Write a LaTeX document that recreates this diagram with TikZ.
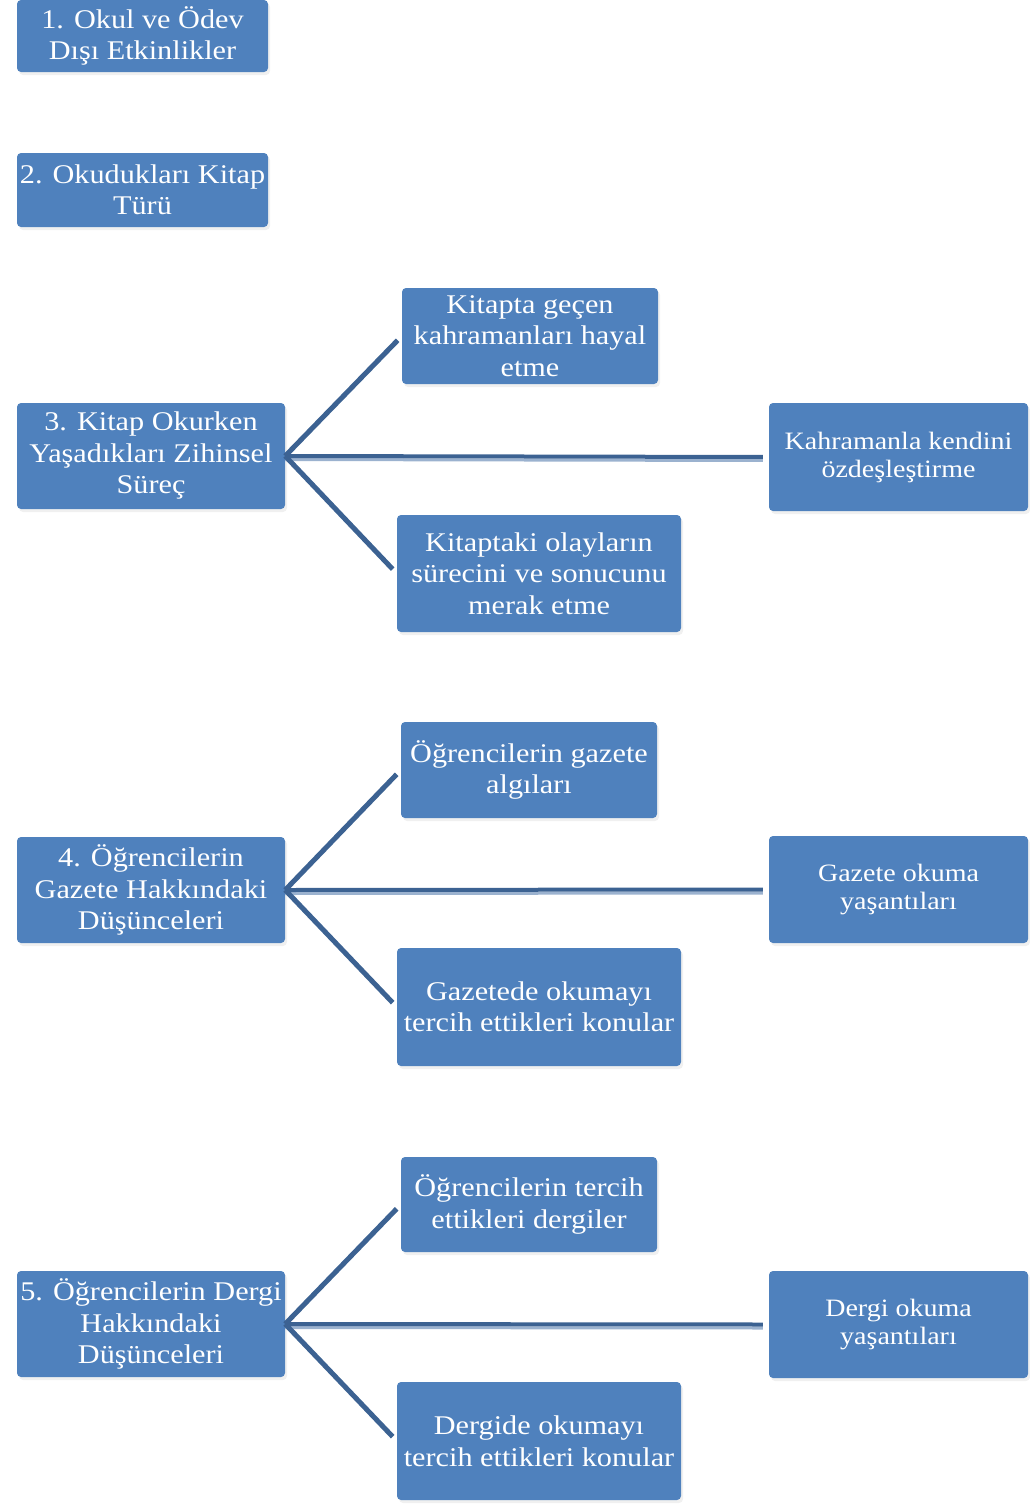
\documentclass[tikz,border=0pt]{standalone}
\usepackage{fontspec}
\setmainfont{Liberation Serif}[FakeStretch=1.12]
\usepackage{xcolor}
\usetikzlibrary{shadows}
\definecolor{boxblue}{RGB}{79,129,189}
\definecolor{linkblue}{RGB}{60,98,146}
\definecolor{linklight}{RGB}{155,178,207}

\tikzset{
  box/.style={rounded corners=4pt, fill=boxblue, text=white, align=center,
    inner sep=2pt, font=\fontsize{27}{31.5}\selectfont,
    drop shadow={opacity=0.12, shadow xshift=2pt, shadow yshift=-3pt}},
  sidebox/.style={box, font=\fontsize{25}{28}\selectfont},
  link/.style={draw=linkblue, line width=5pt, shorten >=6pt},
  flatlink/.style={link, line width=4pt, preaction={draw=linklight, line width=3pt,
    shorten >=6pt, transform canvas={yshift=-3.5pt}}}
}

\begin{document}
\begin{tikzpicture}[x=1pt, y=-1pt]
  \useasboundingbox (0,0) rectangle (1029,1507);
  % Headings without branches
  \node[box, minimum width=251pt, minimum height=72pt] (b1) at (142.5,36)
    {1. Okul ve Ödev\\Dışı Etkinlikler};
  \node[box, minimum width=251pt, minimum height=74pt] (b2) at (142.5,190)
    {2. Okudukları Kitap\\Türü};
  % Section 3
  \node[box, minimum width=268pt, minimum height=106pt] (b3) at (151,456)
    {3. Kitap Okurken\\Yaşadıkları Zihinsel\\Süreç};
  \node[box, minimum width=256pt, minimum height=96pt] (c31) at (530,336)
    {Kitapta geçen\\kahramanları hayal\\etme};
  \node[sidebox, minimum width=259pt, minimum height=108pt] (c32) at (898.5,457)
    {Kahramanla kendini\\özdeşleştirme};
  \node[box, minimum width=284pt, minimum height=117pt] (c33) at (539,573.5)
    {Kitaptaki olayların\\sürecini ve sonucunu\\merak etme};
  % Section 4
  \node[box, minimum width=268pt, minimum height=106pt] (b4) at (151,890)
    {4. Öğrencilerin\\Gazete Hakkındaki\\Düşünceleri};
  \node[box, minimum width=256pt, minimum height=96pt] (c41) at (529,770)
    {Öğrencilerin gazete\\algıları};
  \node[sidebox, minimum width=259pt, minimum height=107pt] (c42) at (898.5,889.5)
    {Gazete okuma\\yaşantıları};
  \node[box, minimum width=284pt, minimum height=118pt] (c43) at (539,1007)
    {Gazetede okumayı\\tercih ettikleri konular};
  % Section 5
  \node[box, minimum width=268pt, minimum height=106pt] (b5) at (151,1324)
    {5. Öğrencilerin Dergi\\Hakkındaki\\Düşünceleri};
  \node[box, minimum width=256pt, minimum height=95pt] (c51) at (529,1204.5)
    {Öğrencilerin tercih\\ettikleri dergiler};
  \node[sidebox, minimum width=259pt, minimum height=107pt] (c52) at (898.5,1324.5)
    {Dergi okuma\\yaşantıları};
  \node[box, minimum width=284pt, minimum height=118pt] (c53) at (539,1441)
    {Dergide okumayı\\tercih ettikleri konular};
  % Branches
  \foreach \p/\a/\b/\c in {b3/c31/c32/c33, b4/c41/c42/c43, b5/c51/c52/c53}{
    \draw[flatlink] (\p.east) -- (\b.west);
    \draw[link] (\p.east) -- (\a.west);
    \draw[link] (\p.east) -- (\c.west);
  }
\end{tikzpicture}
\end{document}
